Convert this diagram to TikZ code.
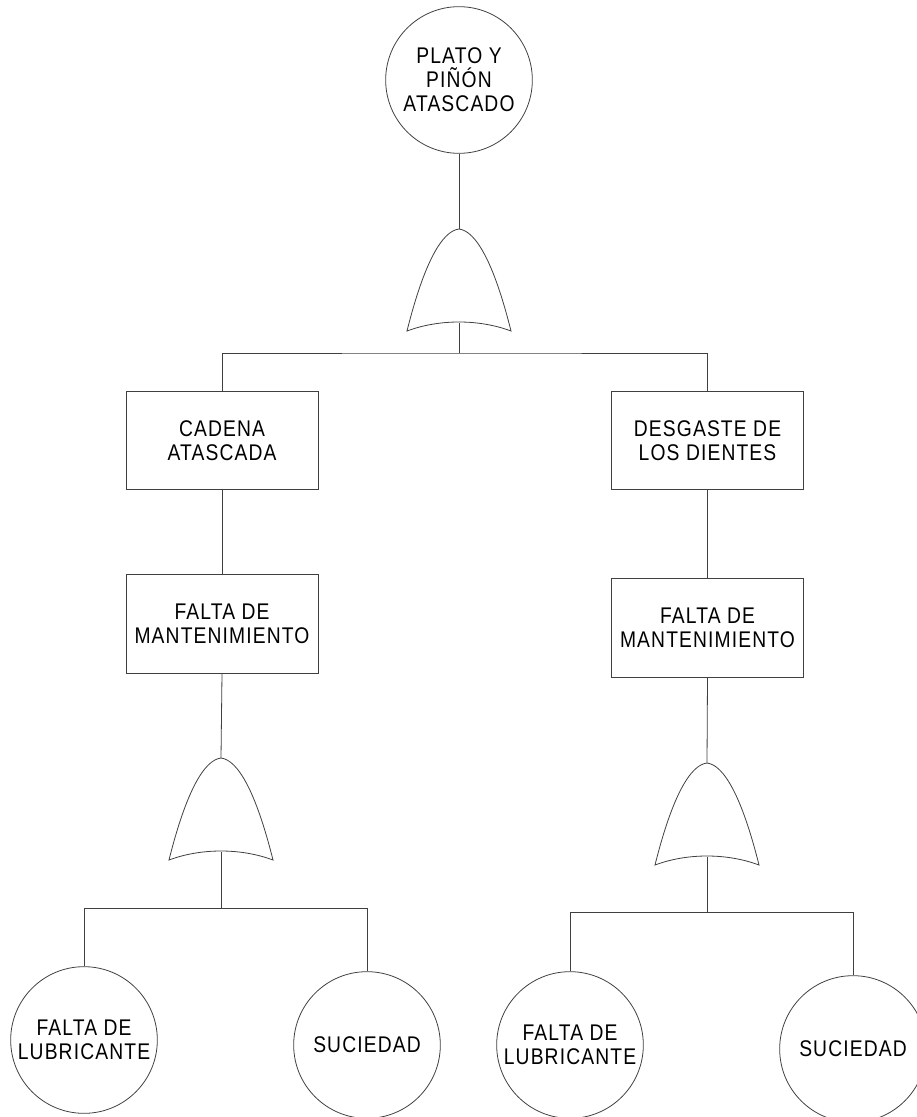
\documentclass[tikz,border=0pt]{standalone}
\usepackage{fontspec}
\newfontfamily\labfont[FakeStretch=0.85,LetterSpace=5]{Liberation Sans}
\begin{document}
\begin{tikzpicture}[x=0.75pt,y=-0.75pt,
  line/.style={draw=black!75,line width=0.6pt},
  event/.style={line,circle,minimum size=110pt,inner sep=0pt,align=center,
    font=\labfont\fontsize{17}{18}\selectfont},
  fault/.style={line,rectangle,minimum width=144pt,minimum height=74pt,inner sep=0pt,align=center,
    font=\labfont\fontsize{17}{18}\selectfont},
  orgate/.pic={
    \coordinate (-apex) at (0,0);
    \coordinate (-base) at (0,94);
    \draw[line] (-52,102) .. controls (-35,34) and (-17,2) .. (0,0)
                .. controls (17,2) and (35,34) .. (52,102)
                .. controls (20,90) and (-20,90) .. cycle;
  }]
\useasboundingbox (0,0) rectangle (917,1117);
\clip (0,0) rectangle (917,1117);

% top event
\node[event] (top) at (459,80) {PLATO Y\\PIÑÓN\\ATASCADO};
\pic (g1) at (459,229) {orgate};
\coordinate (j1) at (459,353);

% intermediate events
\node[fault] (cadena) at (222,440.5) {CADENA\\ATASCADA};
\node[fault] (desgaste) at (707.5,440.5) {DESGASTE DE\\LOS DIENTES};
\node[fault] (mant1) at (222,624) {FALTA DE\\MANTENIMIENTO};
\node[fault] (mant2) at (707.5,628) {FALTA DE\\MANTENIMIENTO};

% lower gates
\pic (g2) at (221,758) {orgate};
\pic (g3) at (707,763) {orgate};
\coordinate (j2) at (221,908);
\coordinate (j3) at (707,912);

% basic events
\node[event] (lub1) at (84,1040) {FALTA DE\\LUBRICANTE};
\node[event] (suc1) at (367,1045) {SUCIEDAD};
\node[event] (lub2) at (570,1045) {FALTA DE\\LUBRICANTE};
\node[event] (suc2) at (853,1049) {SUCIEDAD};

% connectors
\draw[line] (top.south) -- (g1-apex);
\draw[line] (g1-base) -- (j1);
\draw[line] (cadena.north) |- (j1) -| (desgaste.north);
\draw[line] (cadena) -- (mant1);
\draw[line] (desgaste) -- (mant2);

\draw[line] (mant1.south) -- (g2-apex);
\draw[line] (g2-base) -- (j2);
\draw[line] (lub1.north) |- (j2) -| (suc1.north);

\draw[line] (mant2.south) -- (g3-apex);
\draw[line] (g3-base) -- (j3);
\draw[line] (lub2.north) |- (j3) -| (suc2.north);
\end{tikzpicture}
\end{document}
